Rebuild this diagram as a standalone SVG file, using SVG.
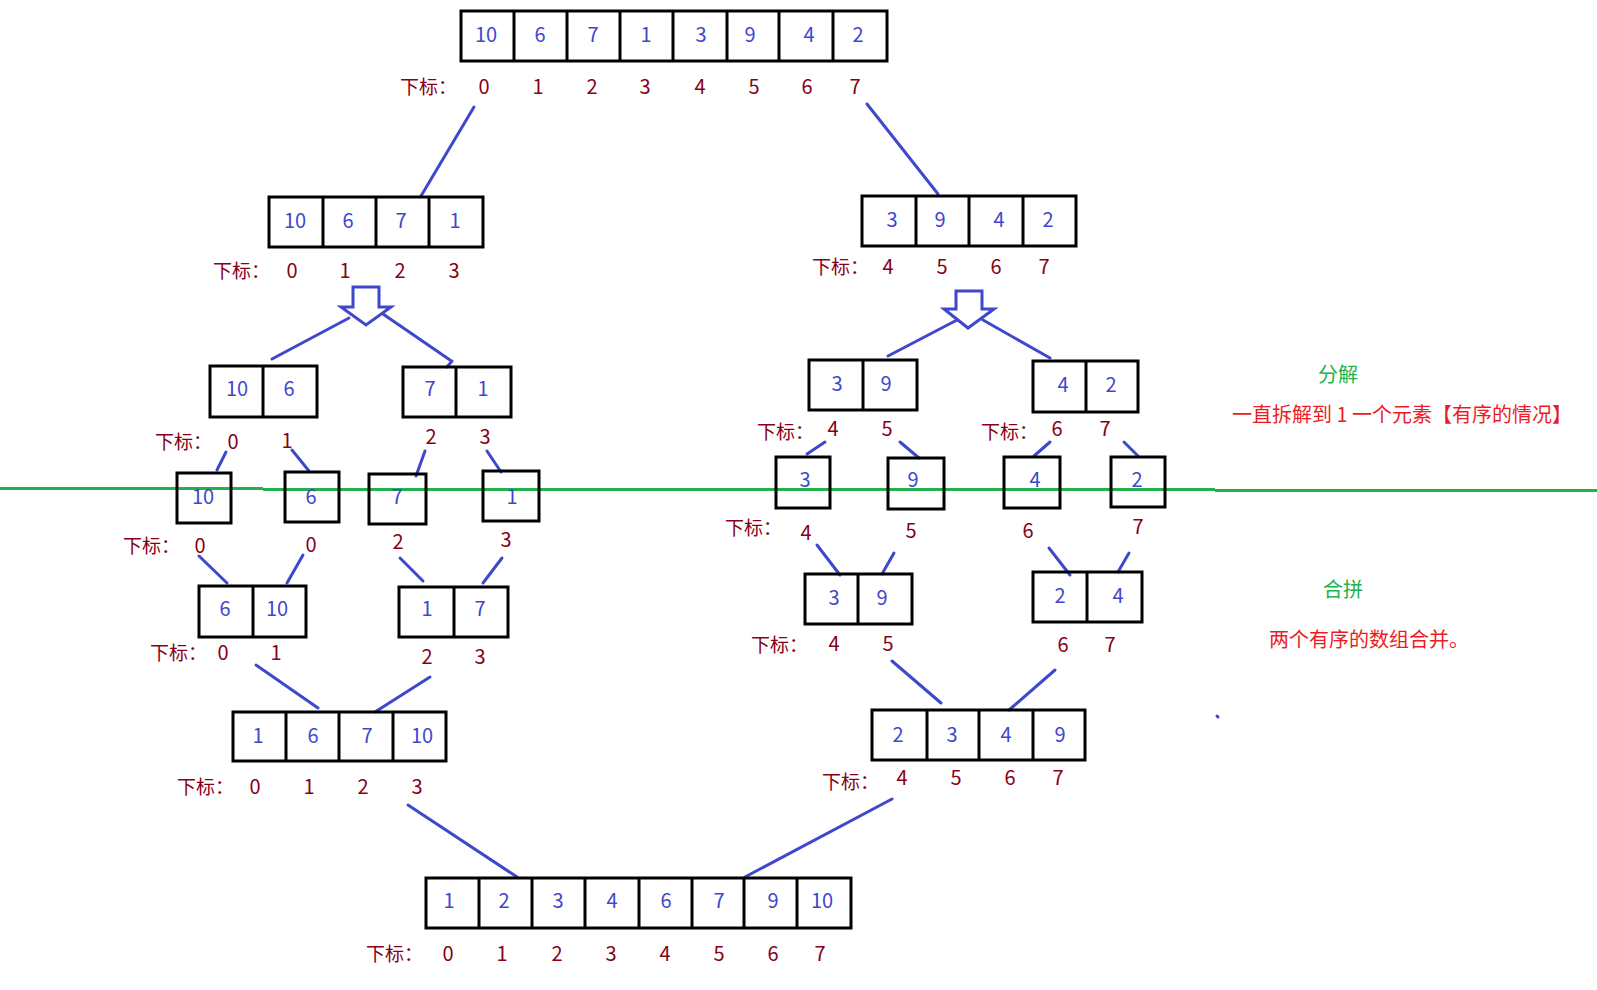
<svg xmlns="http://www.w3.org/2000/svg" width="1597" height="990" viewBox="0 0 1597 990">
<style>
.bx{fill:none;stroke:#000;stroke-width:3}
.dv{stroke:#000;stroke-width:3}
.v{font-family:"Noto Sans CJK SC","Liberation Sans",sans-serif;font-size:20px;fill:#3F48CC;text-anchor:middle}
.i{font-family:"Noto Sans CJK SC","Liberation Sans",sans-serif;font-size:20px;fill:#880015;text-anchor:middle}
.lb{font-family:"Noto Sans CJK SC",sans-serif;font-size:19px;fill:#880015}
.c line,.c polyline{stroke:#3F48CC;stroke-width:3;fill:none;stroke-linecap:round}
.ar{fill:none;stroke:#3F48CC;stroke-width:3;stroke-linejoin:miter}
.g{font-family:"Noto Sans CJK SC",sans-serif;font-size:20px;fill:#22B14C}
.r{font-family:"Noto Sans CJK SC",sans-serif;font-size:20px;fill:#ED1C24}
</style>
<rect width="1597" height="990" fill="#fff"/>

<!-- green divider line -->
<g id="divider" stroke="#22B14C" stroke-width="3">
<line x1="0" y1="488.5" x2="263" y2="488.5"/>
<line x1="263" y1="489.5" x2="1215" y2="489.5"/>
<line x1="1215" y1="490.5" x2="1597" y2="490.5"/>
</g>

<g id="connectors" class="c">
<line x1="474" y1="107" x2="421" y2="196"/>
<line x1="867" y1="104" x2="938" y2="194"/>
<line x1="349" y1="318" x2="272" y2="359"/>
<line x1="383" y1="314" x2="450" y2="360"/>
<line x1="452" y1="361" x2="447" y2="367"/>
<line x1="957" y1="320" x2="888" y2="356"/>
<line x1="983" y1="320" x2="1050" y2="358"/>
<line x1="226" y1="452" x2="217" y2="470"/>
<line x1="292" y1="450" x2="309" y2="471"/>
<line x1="425" y1="451" x2="416" y2="476"/>
<line x1="487" y1="451" x2="501" y2="472"/>
<line x1="825" y1="442" x2="807" y2="454"/>
<line x1="900" y1="442" x2="919" y2="458"/>
<line x1="1050" y1="442" x2="1034" y2="456"/>
<line x1="1124" y1="442" x2="1138" y2="456"/>
<line x1="199" y1="556" x2="227" y2="583"/>
<line x1="303" y1="555" x2="287" y2="583"/>
<line x1="400" y1="558" x2="423" y2="581"/>
<line x1="502" y1="558" x2="483" y2="583"/>
<line x1="817" y1="545" x2="840" y2="575"/>
<line x1="894" y1="553" x2="882" y2="574"/>
<line x1="1049" y1="548" x2="1070" y2="575"/>
<line x1="1129" y1="553" x2="1118" y2="572"/>
<line x1="256" y1="665" x2="318" y2="708"/>
<line x1="430" y1="677" x2="375" y2="712"/>
<line x1="892" y1="661" x2="941" y2="703"/>
<line x1="1055" y1="670" x2="1009" y2="710"/>
<line x1="408" y1="805" x2="517" y2="877"/>
<line x1="892" y1="799" x2="745" y2="877"/>
<line x1="1217" y1="716" x2="1218" y2="717"/>
</g>

<g id="arrowL"><polygon class="ar" points="353,287 379,287 379,307 391,307 366,325 341,307 353,307"/></g>
<g id="arrowR"><polygon class="ar" points="956,291 982,291 982,309 994,309 968,328 944,309 956,309"/></g>

<!-- top array -->
<g id="n0">
<rect class="bx" x="461" y="11" width="426" height="50"/>
<path class="dv" d="M514 11V61M567 11V61M620 11V61M673 11V61M727 11V61M779 11V61M833 11V61"/>
<text class="v" x="486" y="42">10</text><text class="v" x="540" y="42">6</text><text class="v" x="593" y="42">7</text><text class="v" x="646" y="42">1</text><text class="v" x="701" y="42">3</text><text class="v" x="750" y="42">9</text><text class="v" x="809" y="42">4</text><text class="v" x="858" y="42">2</text>
<text class="lb" x="400" y="94">下标：</text>
<text class="i" x="484" y="94">0</text><text class="i" x="538" y="94">1</text><text class="i" x="592" y="94">2</text><text class="i" x="645" y="94">3</text><text class="i" x="700" y="94">4</text><text class="i" x="754" y="94">5</text><text class="i" x="807" y="94">6</text><text class="i" x="855" y="94">7</text>
</g>

<g id="n1">
<rect class="bx" x="269" y="197" width="214" height="50"/>
<path class="dv" d="M323 197V247M376 197V247M429 197V247"/>
<text class="v" x="295" y="228">10</text><text class="v" x="348" y="228">6</text><text class="v" x="401" y="228">7</text><text class="v" x="455" y="228">1</text>
<text class="lb" x="213" y="278">下标：</text>
<text class="i" x="292" y="278">0</text><text class="i" x="345" y="278">1</text><text class="i" x="400" y="278">2</text><text class="i" x="454" y="278">3</text>
</g>

<g id="n2">
<rect class="bx" x="862" y="196" width="214" height="50"/>
<path class="dv" d="M916 196V246M969 196V246M1023 196V246"/>
<text class="v" x="892" y="227">3</text><text class="v" x="940" y="227">9</text><text class="v" x="999" y="227">4</text><text class="v" x="1048" y="227">2</text>
<text class="lb" x="812" y="274">下标：</text>
<text class="i" x="888" y="274">4</text><text class="i" x="942" y="274">5</text><text class="i" x="996" y="274">6</text><text class="i" x="1044" y="274">7</text>
</g>

<g id="n3">
<rect class="bx" x="210" y="366" width="107" height="51"/>
<path class="dv" d="M263 366V417"/>
<text class="v" x="237" y="396">10</text><text class="v" x="289" y="396">6</text>
</g>
<g id="n4">
<rect class="bx" x="403" y="367" width="108" height="50"/>
<path class="dv" d="M456 367V417"/>
<text class="v" x="430" y="396">7</text><text class="v" x="483" y="396">1</text>
</g>
<g id="l3">
<text class="lb" x="155" y="449">下标：</text>
<text class="i" x="233" y="449">0</text><text class="i" x="287" y="448">1</text><text class="i" x="431" y="444">2</text><text class="i" x="485" y="444">3</text>
</g>

<g id="n9">
<rect class="bx" x="809" y="360" width="108" height="50"/>
<path class="dv" d="M863 360V410"/>
<text class="v" x="837" y="391">3</text><text class="v" x="886" y="391">9</text>
</g>
<g id="n10">
<rect class="bx" x="1033" y="361" width="105" height="51"/>
<path class="dv" d="M1086 361V412"/>
<text class="v" x="1063" y="392">4</text><text class="v" x="1111" y="392">2</text>
</g>
<g id="l9">
<text class="lb" x="757" y="439">下标：</text>
<text class="i" x="833" y="436">4</text><text class="i" x="887" y="436">5</text>
<text class="lb" x="981" y="439">下标：</text>
<text class="i" x="1057" y="436">6</text><text class="i" x="1105" y="436">7</text>
</g>

<!-- single boxes -->
<g id="s10"><rect class="bx" x="177" y="473" width="54" height="50"/><text class="v" x="203" y="504">10</text></g>
<g id="s6"><rect class="bx" x="285" y="472" width="54" height="50"/><text class="v" x="311" y="504">6</text></g>
<g id="s7"><rect class="bx" x="369" y="474" width="57" height="50"/><text class="v" x="397" y="504">7</text></g>
<g id="s1"><rect class="bx" x="483" y="471" width="56" height="50"/><text class="v" x="512" y="504">1</text></g>
<g id="ls1">
<text class="lb" x="123" y="553">下标：</text>
<text class="i" x="200" y="553">0</text><text class="i" x="311" y="552">0</text><text class="i" x="398" y="549">2</text><text class="i" x="506" y="547">3</text>
</g>

<g id="s3"><rect class="bx" x="776" y="457" width="54" height="51"/><text class="v" x="805" y="487">3</text></g>
<g id="s9"><rect class="bx" x="888" y="458" width="56" height="51"/><text class="v" x="913" y="487">9</text></g>
<g id="s4"><rect class="bx" x="1004" y="457" width="56" height="51"/><text class="v" x="1035" y="487">4</text></g>
<g id="s2"><rect class="bx" x="1111" y="457" width="54" height="50"/><text class="v" x="1137" y="487">2</text></g>
<g id="ls2">
<text class="lb" x="725" y="535">下标：</text>
<text class="i" x="806" y="540">4</text><text class="i" x="911" y="538">5</text><text class="i" x="1028" y="538">6</text><text class="i" x="1138" y="534">7</text>
</g>

<g id="n5">
<rect class="bx" x="199" y="586" width="107" height="51"/>
<path class="dv" d="M253 586V637"/>
<text class="v" x="225" y="616">6</text><text class="v" x="277" y="616">10</text>
</g>
<g id="n6">
<rect class="bx" x="399" y="587" width="109" height="50"/>
<path class="dv" d="M454 587V637"/>
<text class="v" x="427" y="616">1</text><text class="v" x="480" y="616">7</text>
</g>
<g id="l5">
<text class="lb" x="150" y="660">下标：</text>
<text class="i" x="223" y="660">0</text><text class="i" x="276" y="660">1</text><text class="i" x="427" y="664">2</text><text class="i" x="480" y="664">3</text>
</g>

<g id="n11">
<rect class="bx" x="805" y="574" width="107" height="50"/>
<path class="dv" d="M858 574V624"/>
<text class="v" x="834" y="605">3</text><text class="v" x="882" y="605">9</text>
</g>
<g id="n12">
<rect class="bx" x="1033" y="572" width="109" height="50"/>
<path class="dv" d="M1087 572V622"/>
<text class="v" x="1060" y="603">2</text><text class="v" x="1118" y="603">4</text>
</g>
<g id="l11">
<text class="lb" x="751" y="652">下标：</text>
<text class="i" x="834" y="651">4</text><text class="i" x="888" y="651">5</text><text class="i" x="1063" y="652">6</text><text class="i" x="1110" y="652">7</text>
</g>

<g id="n7">
<rect class="bx" x="233" y="712" width="213" height="49"/>
<path class="dv" d="M286 712V761M339 712V761M393 712V761"/>
<text class="v" x="258" y="743">1</text><text class="v" x="313" y="743">6</text><text class="v" x="367" y="743">7</text><text class="v" x="422" y="743">10</text>
<text class="lb" x="177" y="794">下标：</text>
<text class="i" x="255" y="794">0</text><text class="i" x="309" y="794">1</text><text class="i" x="363" y="794">2</text><text class="i" x="417" y="794">3</text>
</g>

<g id="n13">
<rect class="bx" x="872" y="710" width="213" height="50"/>
<path class="dv" d="M927 710V760M979 710V760M1033 710V760"/>
<text class="v" x="898" y="742">2</text><text class="v" x="952" y="742">3</text><text class="v" x="1006" y="742">4</text><text class="v" x="1060" y="742">9</text>
<text class="lb" x="822" y="789">下标：</text>
<text class="i" x="902" y="785">4</text><text class="i" x="956" y="785">5</text><text class="i" x="1010" y="785">6</text><text class="i" x="1058" y="785">7</text>
</g>

<g id="n8">
<rect class="bx" x="426" y="878" width="425" height="50"/>
<path class="dv" d="M479 878V928M532 878V928M585 878V928M639 878V928M692 878V928M744 878V928M797 878V928"/>
<text class="v" x="449" y="908">1</text><text class="v" x="504" y="908">2</text><text class="v" x="558" y="908">3</text><text class="v" x="612" y="908">4</text><text class="v" x="666" y="908">6</text><text class="v" x="719" y="908">7</text><text class="v" x="773" y="908">9</text><text class="v" x="822" y="908">10</text>
<text class="lb" x="366" y="961">下标：</text>
<text class="i" x="448" y="961">0</text><text class="i" x="502" y="961">1</text><text class="i" x="557" y="961">2</text><text class="i" x="611" y="961">3</text><text class="i" x="665" y="961">4</text><text class="i" x="719" y="961">5</text><text class="i" x="773" y="961">6</text><text class="i" x="820" y="961">7</text>
</g>

<g id="notes">
<text class="g" x="1318" y="382">分解</text>
<text class="r" x="1232" y="422">一直拆解到 1 一个元素【有序的情况】</text>
<text class="g" x="1323" y="597">合拼</text>
<text class="r" x="1269" y="647">两个有序的数组合并。</text>
</g>
</svg>
